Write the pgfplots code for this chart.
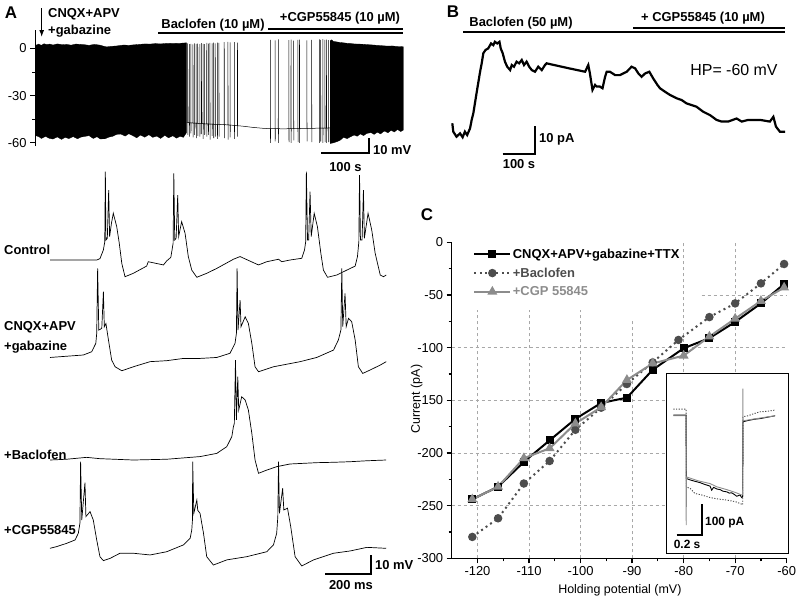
\documentclass[border=0pt]{standalone}
\usepackage{fontspec}
\setmainfont{Liberation Sans}
\usepackage{pgfplots}
\pgfplotsset{compat=1.18}
\usetikzlibrary{arrows.meta}
\definecolor{bacgray}{HTML}{4D4D4D}
\definecolor{cgpgray}{HTML}{8C8C8C}
\definecolor{gridgray}{HTML}{A8A8A8}
\newcommand{\fs}[1]{\fontsize{#1}{#1}\selectfont}
\begin{document}
\begin{tikzpicture}
\path[use as bounding box] (0,0) rectangle (800bp,-600bp);
% ---------- panel letters ----------
\node[font=\fs{17}\bfseries] at (11bp,-13bp) {A};
\node[font=\fs{17}\bfseries] at (453bp,-12bp) {B};
\node[font=\fs{17}\bfseries] at (427bp,-215bp) {C};

% ---------- Panel A top: long recording ----------
\begin{axis}[
  at={(35bp,-146bp)}, anchor=south west, scale only axis,
  width=368.3bp, height=116.4bp,
  xmin=-2, xmax=693, ymin=-62, ymax=12,
  axis y line*=left, axis x line=none,
  ytick={-60,-30,0}, minor ytick={-45,-15},
  tick align=outside, major tick length=5bp, minor tick length=3bp,
  tick style={black, line width=0.8bp},
  axis line style={line width=1bp},
  yticklabel style={font=\fs{13}},
  /pgf/number format/assume math mode=true,
  clip=false,
]
% dense firing before baclofen (envelope of the spikes)
\addplot[fill=black, draw=black, line width=0.3bp] coordinates {
(0,2.1) (5,2.8) (10,2.0) (15,3.0) (20,2.5) (26,2.8) (32,2.2) (40,2.9) (50,2.4) (58,2.6) (66,2.1) (75,2.8) (89,2.5) (100,2.0) (110,2.6) (121,2.1) (128,1.4) (133,1.0) (140,1.3) (152,1.6) (165,2.2) (175,2.0) (184,2.3) (195,2.6) (205,2.9) (215,2.8) (225,3.1) (235,2.9) (247,3.3) (258,3.2) (272,3.3) (284,3.6)
(284,-53.5) (278,-56.5) (272,-55.8) (265,-57) (258,-55.5) (250,-56.8) (243,-55.2) (235,-57.2) (228,-55.7) (220,-56.5) (213,-54.8) (205,-56.4) (197,-55) (190,-56.8) (182,-55.3) (175,-54.2) (168,-55.7) (160,-54.4) (152,-54.6) (145,-55.8) (138,-56.3) (130,-57.4) (121,-57.5) (115,-56.1) (108,-57.2) (100,-55.4) (92,-55.9) (85,-56.3) (78,-57.4) (70,-56) (62,-57.3) (55,-56.5) (48,-57.8) (40,-56.2) (32,-57.6) (25,-57.1) (18,-55.9) (10,-57.2) (5,-56) (0,-55.5)
} -- cycle;
% sparse firing during baclofen
\addplot[black, line width=0.5bp] coordinates {
(284,-47) (286,-47) (286.1,3.2) (286.3,-55) (286.6,-47.2)
(289,-47.2) (289.1,2.8) (289.3,-56) (289.6,-47.2)
(292,-47.3) (292.1,3.0) (292.3,-54) (292.6,-47.3)
(296,-47.4) (296.1,2.6) (296.3,-56.5) (296.6,-47.4)
(299,-47.5) (299.1,3.3) (299.3,-55) (299.6,-47.5)
(302,-47.5) (302.1,2.9) (302.3,-57) (302.6,-47.5)
(305,-47.6) (305.1,3.1) (305.3,-55.5) (305.6,-47.6)
(309,-47.7) (309.1,2.7) (309.3,-56) (309.6,-47.7)
(312,-47.7) (312.1,3.4) (312.3,-54.5) (312.6,-47.7)
(315,-47.8) (315.1,3.0) (315.3,-57.5) (315.6,-47.8)
(318,-47.9) (318.1,2.8) (318.3,-55) (318.6,-47.9)
(322,-48.0) (322.1,3.5) (322.3,-56) (322.6,-48.0)
(325,-48.0) (325.1,3.1) (325.3,-55) (325.6,-48.0)
(328,-48.1) (328.1,3.6) (328.3,-58) (328.6,-48.1)
(332,-48.1) (332.1,3.2) (332.3,-55.5) (332.6,-48.1)
(335,-48.2) (335.1,3.7) (335.3,-57) (335.6,-48.2)
(338,-48.2) (338.1,3.3) (338.3,-56) (338.6,-48.2)
(342,-48.3) (342.1,3.8) (342.3,-57.5) (342.6,-48.3)
(345,-48.3) (345.1,3.5) (345.3,-56) (345.6,-48.3)
(355,-48.4) (355.1,4.0) (355.3,-57) (355.6,-48.4)
(362,-48.6) (362.1,4.2) (362.3,-58) (362.6,-48.6)
(366,-48.7) (366.1,3.9) (366.3,-56.5) (366.6,-48.7)
(374,-48.9) (374.1,4.1) (374.3,-57.5) (374.6,-48.9)
(380,-49.1) (380.1,3.8) (380.3,-56) (380.6,-49.1)
(390,-49.4) (400,-49.8) (410,-50.2) (420,-50.5) (430,-50.8) (442,-51)
(442.1,5.5) (442.3,-60) (442.6,-51)
(451,-51) (451.1,5.2) (451.3,-59) (451.6,-51)
(457,-51) (457.1,5.8) (457.3,-60) (457.6,-51)
(465,-51.1) (477,-51) (477.1,5.3) (477.3,-59.5) (477.6,-51)
(481,-51) (481.1,5.6) (481.3,-60) (481.6,-51)
(486,-51) (486.1,5.0) (486.3,-58.5) (486.6,-51)
(494,-50.9) (494.1,5.4) (494.3,-59.5) (494.6,-50.9)
(497,-50.9) (497.1,5.7) (497.3,-60) (497.6,-50.9)
(505,-50.8) (511,-50.8) (511.1,5.2) (511.3,-59) (511.6,-50.8)
(520,-50.8) (520.1,5.5) (520.3,-59.5) (520.6,-50.8)
(528,-50.7) (535,-50.7) (535.1,5.8) (535.3,-60) (535.6,-50.7)
(537,-50.7) (537.1,5.4) (537.3,-59) (537.6,-50.7)
(541,-50.6) (541.1,5.9) (541.3,-60) (541.6,-50.6)
(545,-50.6) (545.1,5.5) (545.3,-59.5) (545.6,-50.6)
(548,-50.6) (548.1,5.7) (548.3,-60) (548.6,-50.6)
(552,-50.5) (552.1,5.3) (552.3,-59.5) (552.6,-50.5) (555,-50.5)
};
% dense firing after CGP55845
\addplot[fill=black, draw=black, line width=0.3bp] coordinates {
(555,4.9) (558,5.5) (561,4.5) (567,4.2) (574,3.8) (580,3.6) (587,3.3) (593,3.2) (600,2.9) (608,2.8) (616,2.7) (624,2.5) (632,2.3) (640,2.1) (648,1.9) (655,1.7) (664,1.5) (672,1.6) (680,1.3) (688,1.2) (693,1.1)
(693,-51.9) (688,-52.8) (682,-51.5) (676,-53.1) (670,-52) (664,-53.6) (658,-52.5) (655,-53) (650,-54.3) (644,-53.2) (638,-54.6) (632,-53.5) (624,-54) (618,-55.4) (612,-54.3) (606,-55.8) (600,-55) (593,-56.2) (587,-57.3) (580,-56.5) (574,-58.3) (568,-59.2) (561,-60) (555,-60.4)
} -- cycle;
\end{axis}
% annotations panel A top
\draw[-{Latex[length=7bp,width=5bp]}, line width=1.1bp] (41.7bp,-8bp) -- (41.7bp,-37bp);
\node[anchor=west, inner sep=0pt, font=\fs{13}\bfseries] at (48bp,-14bp) {CNQX+APV};
\node[anchor=west, inner sep=0pt, font=\fs{13}\bfseries] at (48bp,-31bp) {+gabazine};
\node[font=\fs{13}\bfseries, inner sep=0pt] at (213bp,-25.5bp) {Baclofen (10 µM)};
\node[font=\fs{13}\bfseries, inner sep=0pt] at (340bp,-18.5bp) {+CGP55845 (10 µM)};
\draw[line width=1.8bp] (158bp,-33bp) -- (403bp,-33bp);
\draw[line width=1.8bp] (268bp,-29bp) -- (403bp,-29bp);
\draw[line width=1.8bp] (321bp,-153.3bp) -- (369.3bp,-153.3bp) -- (369.3bp,-137.5bp);
\node[anchor=west, inner sep=0pt, font=\fs{13}\bfseries] at (373bp,-150bp) {10 mV};
\node[inner sep=0pt, font=\fs{13}\bfseries] at (345.5bp,-167bp) {100 s};

% ---------- Panel A bottom: example traces ----------
\pgfplotsset{trace/.style={at={(50bp,-#1bp)}, anchor=south west, scale only axis, hide axis,
  width=336bp, height=142.5bp, xmin=0, xmax=1460, ymin=-75, ymax=0, clip=false}}
\begin{axis}[trace=288.5]
\addplot[black, line width=0.7bp] coordinates {
(0,-60) (203,-60) (217,-59.3) (232,-54.7) (238,-50.4) (240.5,-13.5) (243,-49.5) (249,-48.6) (255,-23.2) (259,-47.7) (267,-40.7) (275,-35.4) (290,-42.5) (301,-51.2) (312,-61.8) (326,-68.8) (362,-67) (420,-63.2) (427,-60.9) (493,-62.6) (507,-60.5) (525,-58.6) (535,-51.2) (538,-14.4) (542,-49.5) (548,-48.6) (555,-25.8) (559,-47.7) (572,-39.8) (587,-46) (601,-58.2) (616,-65.3) (638,-69.1) (681,-67) (725,-64.4) (797,-59.6) (826,-58.2) (884,-61.4) (906,-62.6) (942,-60.9) (993,-59.6) (1007,-60.9) (1043,-60) (1094,-59.1) (1106,-54.7) (1111,-50.4) (1114,-13.5) (1119,-49.5) (1124,-49.5) (1130,-24) (1135,-47.7) (1148,-35.4) (1162,-42.5) (1177,-56.5) (1188,-65.3) (1206,-69.1) (1246,-67.9) (1290,-65.3) (1326,-63.2) (1336,-58.2) (1342,-50.4) (1345,-15.3) (1349,-49.5) (1356,-49.5) (1362,-23.2) (1366,-48.6) (1382,-35.4) (1398,-44.2) (1413,-56.5) (1435,-67.9) (1449,-68.8) (1461,-67.9)
};
\end{axis}
\begin{axis}[trace=385.2]
\addplot[black, line width=0.7bp] coordinates {
(0,-60.4) (145,-59.1) (181,-57.4) (199,-53) (203,-47.7) (207,-13.5) (212,-46) (225,-45.1) (232,-25.8) (236,-44.2) (243,-42.5) (254,-51.2) (268,-61.8) (283,-65.3) (312,-67.4) (362,-65.3) (435,-62.6) (507,-62.1) (580,-60.9) (652,-60.9) (725,-60.4) (782,-58.2) (804,-53) (810,-47.7) (813,-13.5) (817,-46) (826,-30.2) (830,-44.2) (848,-39) (862,-42.5) (877,-53) (891,-65.3) (906,-67.9) (971,-65.3) (1087,-62.6) (1159,-60.4) (1232,-56.5) (1253,-51.2) (1264,-46) (1268,-13.5) (1272,-44.2) (1282,-26.7) (1287,-44.2) (1297,-39.8) (1311,-41.6) (1326,-51.2) (1340,-65.3) (1359,-68.8) (1391,-67) (1435,-64.4) (1461,-62.6)
};
\end{axis}
\begin{axis}[trace=488.5]
\addplot[black, line width=0.7bp] coordinates {
(0,-60) (72,-59.6) (159,-58.6) (217,-59.3) (362,-60) (507,-59.6) (652,-58.2) (725,-56.5) (768,-53) (790,-47.7) (797,-42.5) (801,-40.7) (806,-7.4) (810,-38.9) (816,-16.1) (820,-33.7) (833,-26.7) (848,-28.4) (862,-33.7) (877,-46) (891,-60) (906,-67) (942,-65.3) (985,-63.5) (1043,-62.1) (1159,-61.4) (1232,-61.2) (1304,-60.9) (1377,-60.4) (1461,-60)
};
\end{axis}
\begin{axis}[trace=576.8]
\addplot[black, line width=0.7bp] coordinates {
(0,-60) (29,-59.1) (72,-57.4) (109,-55.6) (123,-52.1) (130,-46.8) (133,-14.4) (138,-45.1) (152,-25.4) (156,-43.3) (174,-40.7) (188,-45.1) (203,-55.6) (217,-64.4) (232,-66.5) (261,-65.3) (304,-62.6) (362,-62.6) (435,-63.5) (507,-61.8) (580,-58.2) (609,-54.7) (616,-50.4) (619,-45.1) (620,-14.4) (625,-41.6) (638,-34.6) (642,-40) (652,-41.6) (667,-52.1) (681,-64.4) (710,-68.8) (768,-66.1) (855,-64.4) (942,-61.8) (971,-58.2) (985,-52.1) (990,-43.3) (993,-14.4) (997,-41.6) (1011,-28.4) (1016,-39.8) (1032,-38.9) (1046,-48.6) (1065,-64.4) (1094,-69.3) (1145,-66.1) (1232,-62.6) (1304,-61.4) (1377,-59.5) (1461,-60)
};
\end{axis}
\node[anchor=west, inner sep=0pt, font=\fs{13}\bfseries] at (4bp,-250bp) {Control};
\node[anchor=west, inner sep=0pt, font=\fs{13}\bfseries] at (4bp,-327bp) {CNQX+APV};
\node[anchor=west, inner sep=0pt, font=\fs{13}\bfseries] at (4bp,-347bp) {+gabazine};
\node[anchor=west, inner sep=0pt, font=\fs{13}\bfseries] at (4bp,-455bp) {+Baclofen};
\node[anchor=west, inner sep=0pt, font=\fs{13}\bfseries] at (4bp,-530bp) {+CGP55845};
\draw[line width=1.8bp] (325bp,-574bp) -- (371bp,-574bp) -- (371bp,-555bp);
\node[anchor=west, inner sep=0pt, font=\fs{13}\bfseries] at (375bp,-565bp) {10 mV};
\node[inner sep=0pt, font=\fs{13}\bfseries] at (351bp,-585bp) {200 ms};

% ---------- Panel B ----------
\begin{axis}[at={(452.3bp,-150.7bp)}, anchor=south west, scale only axis, hide axis,
  width=332.7bp, height=126bp, xmin=0, xmax=1030, ymin=-5, ymax=40, clip=false]
\addplot[black, line width=2.2bp] coordinates {
(0,4.8) (3,1.8) (13,0) (24,1.2) (32,-0.2) (39,1.8) (46,0.6) (55,3.0) (60,6.0) (65,8.3) (70,11.9) (75,15.5) (80,19.0) (86,23.2) (91,26.2) (96,29.8) (103,31.0) (111,31.5) (120,33.3) (127,32.7) (132,33.9) (139,33.3) (146,33.9) (150,31.5) (156,29.8) (163,26.8) (170,25.0) (179,23.8) (184,25.6) (191,25.0) (199,26.8) (207,26.2) (215,27.4) (222,25.6) (230,26.8) (238,25.0) (246,23.8) (256,23.2) (266,25.0) (277,23.8) (287,25.6) (292,26.2) (354,24.6) (411,23.2) (421,25.6) (426,22.6) (434,16.7) (442,18.5) (447,17.9) (457,17.9) (465,17.3) (473,21.4) (478,23.2) (488,23.2) (504,22.0) (519,22.0) (540,23.2) (555,25.0) (566,24.4) (576,22.6) (586,21.4) (597,22.6) (610,23.2) (622,20.8) (635,18.5) (643,17.3) (658,16.1) (674,14.9) (695,13.7) (710,13.1) (725,11.9) (756,10.7) (777,8.9) (798,7.7) (818,6.0) (834,5.4) (854,5.4) (880,6.5) (896,5.4) (916,6.0) (932,6.0) (953,6.0) (983,5.4) (994,7.1) (1002,3.6) (1014,1.8) (1030,1.8)
};
\end{axis}
\draw[line width=1.8bp] (463bp,-32.3bp) -- (785bp,-32.3bp);
\draw[line width=1.8bp] (633bp,-28.3bp) -- (785bp,-28.3bp);
\node[inner sep=0pt, font=\fs{13}\bfseries] at (521bp,-23.5bp) {Baclofen (50 µM)};
\node[inner sep=0pt, font=\fs{13}\bfseries] at (703bp,-18.5bp) {+ CGP55845 (10 µM)};
\node[inner sep=0pt, font=\fs{16}] at (734bp,-70bp) {HP= -60 mV};
\draw[line width=1.8bp] (502.7bp,-154bp) -- (535bp,-154bp) -- (535bp,-126bp);
\node[anchor=west, inner sep=0pt, font=\fs{13}\bfseries] at (539bp,-139.5bp) {10 pA};
\node[inner sep=0pt, font=\fs{13}\bfseries] at (519bp,-164bp) {100 s};

% ---------- Panel C: I-V ----------
\begin{axis}[at={(451.7bp,-558.3bp)}, anchor=south west, scale only axis,
  width=335bp, height=316bp,
  xmin=-125, xmax=-60, ymin=-300, ymax=0,
  axis x line*=bottom, axis y line*=left,
  xtick={-120,-110,...,-60}, ytick={-300,-250,...,0},
  minor x tick num=1, minor y tick num=1,
  tick align=outside, major tick length=5bp, minor tick length=3bp,
  axis line style={line width=1.5bp}, tick style={line width=1.2bp, black},
  ticklabel style={font=\fs{13}},
  /pgf/number format/assume math mode=true,
  xlabel={Holding potential (mV)}, ylabel={Current (pA)},
  label style={font=\fs{12.5}},
  xlabel style={at={(axis description cs:0.502,-0.1)}, anchor=center},
  ylabel style={at={(axis description cs:-0.1045,0.504)}, anchor=center},
  clip=false,
  legend style={at={(axis description cs:0.064,0.985)}, anchor=north west, draw=none, fill=none,
    inner sep=0pt, font=\fs{13}\bfseries, row sep=5bp, nodes={inner sep=1.5bp}},
  legend cell align=left,
  legend image code/.code={\draw[mark repeat=2,mark phase=2,#1] plot coordinates {(0bp,0bp) (18bp,0bp) (36bp,0bp)};},
]
\draw[gridgray, dash pattern=on 3bp off 3bp, line width=0.6bp]
  (axis cs:-125,-100) -- (axis cs:-60,-100)
  (axis cs:-125,-150) -- (axis cs:-60,-150)
  (axis cs:-125,-200) -- (axis cs:-60,-200)
  (axis cs:-125,-250) -- (axis cs:-60,-250)
  (axis cs:-76.5,-50) -- (axis cs:-60,-50)
  (axis cs:-120,-300) -- (axis cs:-120,-64)
  (axis cs:-110,-300) -- (axis cs:-110,-64)
  (axis cs:-100,-300) -- (axis cs:-100,-64)
  (axis cs:-90,-300) -- (axis cs:-90,-74)
  (axis cs:-80,-300) -- (axis cs:-80,0)
  (axis cs:-70,-300) -- (axis cs:-70,0);
\addplot[black, line width=2bp, mark=square*, mark size=3bp] coordinates {
(-121,-244) (-116,-232) (-111,-208.5) (-106,-188) (-101,-167.7) (-96,-152.5) (-91,-147.5) (-86,-121) (-80,-100.6) (-75,-91) (-70,-75.6) (-65,-58) (-60.5,-39.6)
};
\addlegendentry{CNQX+APV+gabazine+TTX}
\addplot[bacgray, line width=2bp, dash pattern=on 2bp off 3.5bp, mark=*, mark size=3.2bp, mark options={solid}] coordinates {
(-121,-279.7) (-116,-262) (-111,-229) (-106,-207.6) (-101,-178) (-96,-157) (-91,-134.5) (-86,-114) (-81,-92.7) (-75,-71) (-70,-58) (-65,-39) (-60.5,-20.6)
};
\addlegendentry{\textcolor{bacgray}{+Baclofen}}
\addplot[cgpgray, line width=2bp, mark=triangle*, mark size=3.8bp] coordinates {
(-121,-244) (-116,-232) (-111,-205) (-106,-195.6) (-101,-172) (-96,-156.6) (-91,-130.7) (-86,-115) (-80,-107.6) (-75,-89.5) (-70,-72.5) (-65,-55.7) (-60.5,-43)
};
\addlegendentry{\textcolor{cgpgray}{+CGP 55845}}
\end{axis}

% ---------- Inset of panel C ----------
\begin{axis}[at={(666.7bp,-553.3bp)}, anchor=south west, scale only axis,
  width=121.6bp, height=180bp, xmin=0, xmax=0.973, ymin=-436, ymax=132,
  xtick=\empty, ytick=\empty, axis line style={line width=1bp},
  axis background/.style={fill=white}, clip=false]
\addplot[bacgray, line width=0.9bp, dash pattern=on 1.2bp off 1.5bp] coordinates {
(0.053,19) (0.155,19) (0.157,-226) (0.19,-232) (0.225,-247) (0.28,-252) (0.347,-260) (0.40,-264) (0.48,-268) (0.55,-273) (0.60,-281) (0.608,-283) (0.61,-5) (0.65,-2) (0.70,5) (0.747,10.5) (0.80,12) (0.867,16)
};
\addplot[black, line width=0.9bp] coordinates {
(0.053,0) (0.155,0) (0.157,-200) (0.20,-206) (0.267,-213) (0.30,-218) (0.347,-224) (0.36,-237) (0.375,-228) (0.40,-233) (0.427,-235) (0.45,-240) (0.48,-242) (0.50,-246) (0.52,-245) (0.54,-250) (0.56,-256) (0.587,-252) (0.60,-260) (0.608,-258) (0.61,-21) (0.65,-17) (0.70,-13) (0.747,-11) (0.80,-7) (0.867,-2)
};
\addplot[cgpgray, line width=0.9bp] coordinates {
(0.053,-2) (0.155,-2) (0.156,-347) (0.158,-195) (0.25,-207) (0.347,-216) (0.40,-226) (0.48,-235) (0.55,-244) (0.60,-252) (0.608,-252) (0.609,84) (0.611,-18) (0.70,-12) (0.80,-6) (0.867,-2)
};
\draw[line width=1.8bp] (axis cs:0.08,-379) -- (axis cs:0.28,-379) -- (axis cs:0.28,-279);
\node[anchor=west, inner sep=0pt, font=\fs{12}\bfseries] at (axis cs:0.306,-340) {100 pA};
\node[inner sep=0pt, font=\fs{12}\bfseries] at (axis cs:0.163,-407) {0.2 s};
\end{axis}
\end{tikzpicture}
\end{document}
